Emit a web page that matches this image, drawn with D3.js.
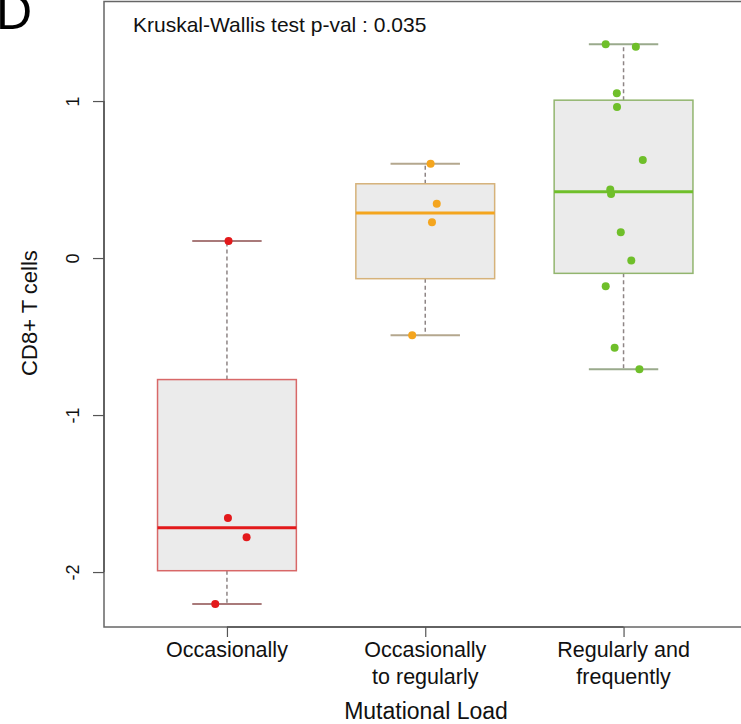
<!DOCTYPE html>
<html>
<head>
<meta charset="utf-8">
<script src="https://cdn.jsdelivr.net/npm/d3@7"></script>
<style>
  html, body { margin: 0; padding: 0; background: #fff; }
  text { font-family: "Liberation Sans", Arial, Helvetica, sans-serif; }
</style>
</head>
<body>
<svg id="chart" width="741" height="724"></svg>
<script>
// ---- data ----
const categories = ["Occasionally", "Occasionally\nto regularly", "Regularly and\nfrequently"];
const groupColors = ["#e3191b", "#f4a51e", "#6fbf2a"];
const boxStroke = ["#d86868", "#d6b27a", "#92b56e"];
const capStroke = ["#a97a7a", "#b4a78e", "#9aaa8c"];
const valuesOccasionally = [0.108, -1.656, -1.779, -2.204];
const valuesOccToReg = [0.600, 0.346, 0.228, -0.491];
const valuesRegFreq = [1.361, 1.346, 1.049, 0.962, 0.624, 0.437, 0.408, 0.164, -0.015, -0.180, -0.571, -0.709];
// horizontal jitter (in category units)
const jitterOccasionally = [0.008, 0.005, 0.099, -0.059];
const jitterOccToReg = [0.027, 0.058, 0.034, -0.066];
const jitterRegFreq = [-0.090, 0.062, -0.034, -0.033, 0.097, -0.067, -0.063, -0.014, 0.039, -0.090, -0.045, 0.080];
const yTicks = [-2, -1, 0, 1];
const titleText = "Kruskal-Wallis test p-val : 0.035";
const yLabel = "CD8+ T cells";
const xLabel = "Mutational Load";
const panelLabel = "D";

const groups = [
  { values: valuesOccasionally, jitter: jitterOccasionally },
  { values: valuesOccToReg, jitter: jitterOccToReg },
  { values: valuesRegFreq, jitter: jitterRegFreq }
];

// Tukey five-number summary (as R's fivenum / boxplot)
function fivenum(arr) {
  const x = arr.slice().sort((a, b) => a - b);
  const n = x.length;
  const n4 = Math.floor((n + 3) / 2) / 2;
  const d = [1, n4, (n + 1) / 2, n + 1 - n4, n];
  return d.map(v => 0.5 * (x[Math.floor(v) - 1] + x[Math.ceil(v) - 1]));
}
function boxStats(arr) {
  const f = fivenum(arr);
  const iqr = f[3] - f[1];
  const lo = f[1] - 1.5 * iqr, hi = f[3] + 1.5 * iqr;
  const inside = arr.filter(v => v >= lo && v <= hi);
  return { q1: f[1], med: f[2], q3: f[3], wlo: d3.min(inside), whi: d3.max(inside) };
}

// ---- layout ----
const svg = d3.select("#chart");
const x = d3.scaleLinear().domain([0.38, 3.62]).range([104, 746.5]);
const y = d3.scaleLinear().domain([-2.35, 1.634]).range([627, 1.5]);
const boxWex = 0.70;

// panel letter (cropped at the top, as in the source figure)
svg.append("text").attr("x", -4).attr("y", 29).attr("font-size", 50)
  .attr("fill", "#000").text(panelLabel);

// boxes
groups.forEach((g, i) => {
  const c = i + 1;
  const s = boxStats(g.values);
  const gx = svg.append("g");
  const hw = boxWex / 2;
  gx.append("line").attr("x1", x(c)).attr("x2", x(c)).attr("y1", y(s.q3)).attr("y2", y(s.whi))
    .attr("stroke", "#8e8585").attr("stroke-width", 1.5).attr("stroke-dasharray", "4,3");
  gx.append("line").attr("x1", x(c)).attr("x2", x(c)).attr("y1", y(s.q1)).attr("y2", y(s.wlo))
    .attr("stroke", "#8e8585").attr("stroke-width", 1.5).attr("stroke-dasharray", "4,3");
  [s.whi, s.wlo].forEach(v => {
    gx.append("line").attr("x1", x(c - hw / 2)).attr("x2", x(c + hw / 2)).attr("y1", y(v)).attr("y2", y(v))
      .attr("stroke", capStroke[i]).attr("stroke-width", 2);
  });
  gx.append("rect").attr("x", x(c - hw)).attr("y", y(s.q3))
    .attr("width", x(c + hw) - x(c - hw)).attr("height", y(s.q1) - y(s.q3))
    .attr("fill", "#ebebeb").attr("stroke", boxStroke[i]).attr("stroke-width", 1.5);
  gx.append("line").attr("x1", x(c - hw)).attr("x2", x(c + hw)).attr("y1", y(s.med)).attr("y2", y(s.med))
    .attr("stroke", groupColors[i]).attr("stroke-width", 3);
});

// points
groups.forEach((g, i) => {
  svg.append("g").selectAll("circle").data(g.values).join("circle")
    .attr("cx", (d, j) => x(i + 1 + g.jitter[j]))
    .attr("cy", d => y(d))
    .attr("r", 4)
    .attr("fill", groupColors[i]);
});

// frame
svg.append("rect").attr("x", 104).attr("y", 1.5).attr("width", 642.5).attr("height", 625.5)
  .attr("fill", "none").attr("stroke", "#666").attr("stroke-width", 1.5);

// y axis
const yAxis = svg.append("g").attr("transform", "translate(104,0)")
  .call(d3.axisLeft(y).tickValues(yTicks).tickSize(11).tickSizeOuter(0).tickFormat(d => String(d)));
yAxis.select(".domain").attr("d", `M0,${y(-2)}V${y(1)}`).attr("stroke", "#555").attr("stroke-width", 1.5);
yAxis.selectAll(".tick line").attr("stroke", "#555").attr("stroke-width", 1.2);
yAxis.selectAll(".tick text")
  .attr("font-size", 18).attr("fill", "#111")
  .attr("text-anchor", "middle")
  .attr("x", null).attr("dy", null)
  .attr("transform", "translate(-31,0) rotate(-90)")
  .attr("y", 0).attr("dominant-baseline", "central");

// x axis
const xAxis = svg.append("g").attr("transform", "translate(0,627)")
  .call(d3.axisBottom(x).tickValues([1, 2, 3]).tickSize(10).tickSizeOuter(0).tickFormat(""));
xAxis.select(".domain").attr("d", `M${x(1)},0H${x(3)}`).attr("stroke", "#555").attr("stroke-width", 1.5);
xAxis.selectAll(".tick line").attr("stroke", "#555").attr("stroke-width", 1.2);
categories.forEach((cat, i) => {
  const lines = cat.split("\n");
  const t = svg.append("text").attr("x", x(i + 1)).attr("y", 657)
    .attr("text-anchor", "middle").attr("font-size", 21.5).attr("fill", "#111");
  lines.forEach((ln, k) => {
    t.append("tspan").attr("x", x(i + 1)).attr("dy", k === 0 ? 0 : 27).text(ln);
  });
});

// titles
svg.append("text").attr("x", 133).attr("y", 31.5).attr("font-size", 21).attr("fill", "#111").text(titleText);
svg.append("text").attr("transform", "translate(37,313) rotate(-90)")
  .attr("text-anchor", "middle").attr("font-size", 22).attr("fill", "#111").text(yLabel);
svg.append("text").attr("x", 426).attr("y", 719).attr("text-anchor", "middle")
  .attr("font-size", 23).attr("fill", "#111").text(xLabel);
</script>
</body>
</html>
